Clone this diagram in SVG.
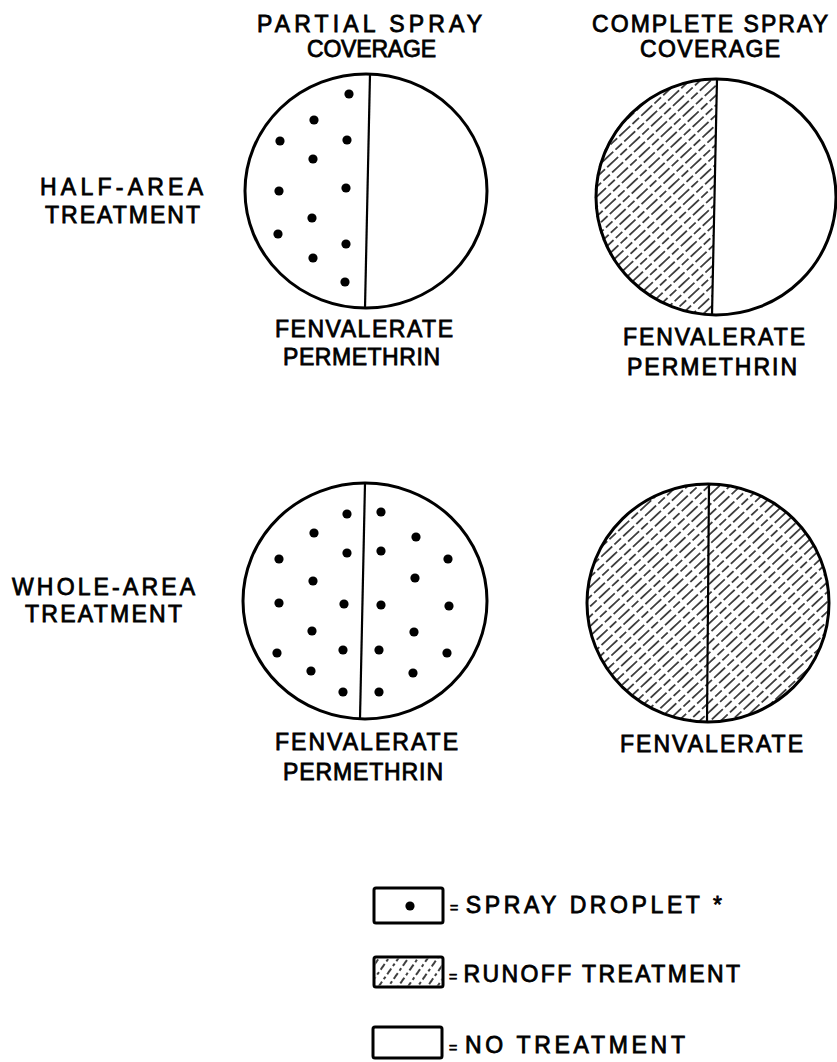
<svg xmlns="http://www.w3.org/2000/svg" width="837" height="1062" viewBox="0 0 837 1062">
<style>
text{font-family:"Liberation Sans",Arial,sans-serif;font-size:23px;fill:#000;stroke:#000;stroke-width:0.8}
.rim{fill:none;stroke:#000;stroke-width:3}
.div{stroke:#000;stroke-width:2.2;fill:none}
.dot{fill:#000}
.box{fill:#fff;stroke:#000;stroke-width:3}
.eq{font-size:14px}
</style>
<defs>
<pattern id="hatch" width="30" height="7.2" patternUnits="userSpaceOnUse" patternTransform="rotate(-43)">
<line x1="0" y1="3.6" x2="30" y2="3.6" stroke="#000" stroke-width="1.5" stroke-dasharray="15 3 9 3"/>
</pattern>
<pattern id="hatchL" width="16" height="8" patternUnits="userSpaceOnUse" patternTransform="rotate(-55)">
<line x1="0" y1="4" x2="16" y2="4" stroke="#000" stroke-width="1.5" stroke-dasharray="7 3 3 3"/>
</pattern>
</defs>
<rect width="837" height="1062" fill="#fff"/>

<g id="column-headers">
<text x="257" y="32" textLength="225" lengthAdjust="spacing">PARTIAL SPRAY</text>
<text x="307" y="57" textLength="129" lengthAdjust="spacing">COVERAGE</text>
<text x="592" y="32" textLength="236" lengthAdjust="spacing">COMPLETE SPRAY</text>
<text x="640" y="57" textLength="140" lengthAdjust="spacing">COVERAGE</text>
</g>

<g id="row-headers">
<text x="40" y="195" textLength="163" lengthAdjust="spacing">HALF-AREA</text>
<text x="45" y="223" textLength="155" lengthAdjust="spacing">TREATMENT</text>
<text x="12" y="595" textLength="183" lengthAdjust="spacing">WHOLE-AREA</text>
<text x="25" y="622" textLength="157" lengthAdjust="spacing">TREATMENT</text>
</g>

<g id="half-partial">
<ellipse cx="366" cy="191" rx="121" ry="117" fill="#fff"/>
<g class="dot">
<circle cx="349" cy="94" r="4.6"/><circle cx="314" cy="120" r="4.6"/><circle cx="280" cy="141" r="4.6"/><circle cx="347" cy="140" r="4.6"/>
<circle cx="313" cy="159" r="4.6"/><circle cx="279" cy="191" r="4.6"/><circle cx="346" cy="188" r="4.6"/><circle cx="312" cy="218" r="4.6"/>
<circle cx="278" cy="234" r="4.6"/><circle cx="346" cy="244" r="4.6"/><circle cx="313" cy="258" r="4.6"/><circle cx="345" cy="282" r="4.6"/>
</g>
<ellipse class="rim" cx="366" cy="191" rx="121" ry="117"/>
<line class="div" x1="370" y1="74" x2="365" y2="308"/>
<text x="275" y="337" textLength="178" lengthAdjust="spacing">FENVALERATE</text>
<text x="283" y="365" textLength="157" lengthAdjust="spacing">PERMETHRIN</text>
</g>

<g id="half-complete">
<ellipse cx="716" cy="197" rx="120" ry="118" fill="#fff"/>
<path d="M717,79 A120,118 0 0 0 712,315 Z" fill="url(#hatch)"/>
<ellipse class="rim" cx="716" cy="197" rx="120" ry="118"/>
<line class="div" x1="717" y1="79" x2="712" y2="315"/>
<text x="623" y="345" textLength="182" lengthAdjust="spacing">FENVALERATE</text>
<text x="627" y="375" textLength="170" lengthAdjust="spacing">PERMETHRIN</text>
</g>

<g id="whole-partial">
<ellipse cx="365" cy="601" rx="122" ry="118" fill="#fff"/>
<g class="dot">
<circle cx="347" cy="514" r="4.6"/><circle cx="381" cy="512" r="4.6"/><circle cx="314" cy="533" r="4.6"/><circle cx="416" cy="537" r="4.6"/>
<circle cx="279" cy="559" r="4.6"/><circle cx="347" cy="553" r="4.6"/><circle cx="381" cy="551" r="4.6"/><circle cx="448" cy="559" r="4.6"/>
<circle cx="313" cy="581" r="4.6"/><circle cx="415" cy="578" r="4.6"/><circle cx="279" cy="603" r="4.6"/><circle cx="344" cy="604" r="4.6"/>
<circle cx="381" cy="605" r="4.6"/><circle cx="449" cy="606" r="4.6"/><circle cx="312" cy="631" r="4.6"/><circle cx="414" cy="632" r="4.6"/>
<circle cx="277" cy="653" r="4.6"/><circle cx="343" cy="650" r="4.6"/><circle cx="379" cy="650" r="4.6"/><circle cx="447" cy="653" r="4.6"/>
<circle cx="311" cy="671" r="4.6"/><circle cx="413" cy="673" r="4.6"/><circle cx="343" cy="692" r="4.6"/><circle cx="379" cy="692" r="4.6"/>
</g>
<ellipse class="rim" cx="365" cy="601" rx="122" ry="118"/>
<line class="div" x1="365" y1="483" x2="360" y2="719"/>
<text x="275" y="750" textLength="183" lengthAdjust="spacing">FENVALERATE</text>
<text x="283" y="780" textLength="160" lengthAdjust="spacing">PERMETHRIN</text>
</g>

<g id="whole-complete">
<ellipse cx="708" cy="603" rx="121" ry="119" fill="url(#hatch)"/>
<ellipse class="rim" cx="708" cy="603" rx="121" ry="119"/>
<line class="div" x1="709" y1="484" x2="707" y2="723"/>
<text x="620" y="752" textLength="183" lengthAdjust="spacing">FENVALERATE</text>
</g>

<g id="legend">
<g id="legend-droplet">
<rect class="box" x="374" y="888" width="69" height="35" rx="2"/>
<circle class="dot" cx="410" cy="906" r="4.6"/>
<text x="450" y="913" textLength="272" lengthAdjust="spacing"><tspan class="eq">=</tspan><tspan dx="4">SPRAY DROPLET *</tspan></text>
</g>
<g id="legend-runoff">
<rect class="box" x="374" y="957" width="69" height="30" rx="2"/>
<rect x="375.5" y="958.5" width="66" height="27" fill="url(#hatchL)"/>
<text x="449" y="982" textLength="291" lengthAdjust="spacing"><tspan class="eq">=</tspan><tspan dx="4">RUNOFF TREATMENT</tspan></text>
</g>
<g id="legend-none">
<rect class="box" x="373" y="1027" width="69" height="31" rx="2"/>
<text x="449" y="1053" textLength="236" lengthAdjust="spacing"><tspan class="eq">=</tspan><tspan dx="4">NO TREATMENT</tspan></text>
</g>
</g>

<g id="connectors"/>
</svg>
